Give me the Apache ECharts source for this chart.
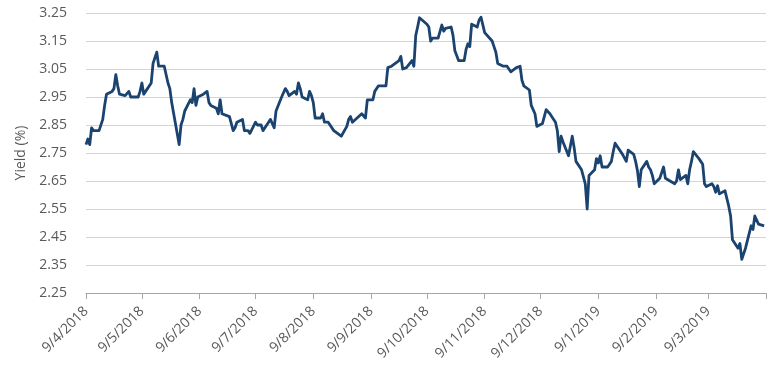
<!DOCTYPE html>
<html><head><meta charset="utf-8">
<script src="https://cdn.jsdelivr.net/npm/echarts@6/dist/echarts.min.js"></script>
<style>html,body{margin:0;padding:0;background:#fff}#c{width:780px;height:374px}</style>
</head><body><div id="c"></div>
<script>
// Trading days: weekdays from firstDay to lastDay, minus bond-market holidays
const firstDay = '2018-04-09';
const lastDay = '2019-04-08';
const holidays = ['2018-05-28','2018-07-04','2018-09-03','2018-10-08','2018-11-12','2018-11-22',
                  '2018-12-05','2018-12-25','2019-01-01','2019-01-21','2019-02-18'];

// Yield (%) per trading day
const yields = [
  // Apr 2018
  2.78,2.80,2.78,2.84,2.83,2.83,2.83,2.87,2.92,2.96,2.97,2.98,3.03,2.99,2.96,2.955,
  // May
  2.96,2.97,2.95,2.95,2.95,2.97,3.00,2.96,2.97,3.00,3.07,3.09,3.11,3.06,3.06,3.06,3.00,2.98,2.93,2.78,2.85,2.87,
  // Jun
  2.90,2.94,2.93,2.98,2.92,2.95,2.96,2.96,2.97,2.93,2.92,2.91,2.89,2.94,2.89,2.89,2.88,2.88,2.83,2.84,2.86,
  // Jul
  2.87,2.83,2.83,2.82,2.86,2.85,2.85,2.85,2.83,2.86,2.87,2.87,2.84,2.90,2.95,2.95,2.98,2.97,2.955,2.97,2.96,
  // Aug
  3.00,2.98,2.95,2.94,2.97,2.955,2.93,2.875,2.875,2.89,2.86,2.86,2.86,2.83,2.83,2.82,2.82,2.81,2.845,2.87,2.88,2.86,2.86,
  // Sep
  2.89,2.89,2.875,2.94,2.94,2.97,2.965,2.99,2.995,2.99,3.055,3.06,3.06,3.065,3.08,3.095,3.05,3.055,3.055,
  // Oct
  3.08,3.06,3.17,3.20,3.233,3.21,3.20,3.15,3.16,3.16,3.16,3.207,3.185,3.195,3.20,3.17,3.115,3.12,3.08,3.08,3.12,3.14,
  // Nov
  3.13,3.21,3.20,3.225,3.235,3.235,3.18,3.15,3.13,3.11,3.07,3.06,3.06,3.06,3.04,3.055,3.06,3.06,3.01,2.99,
  // Dec
  2.975,2.92,2.89,2.845,2.855,2.88,2.905,2.91,2.89,2.86,2.83,2.755,2.81,2.79,2.74,2.81,2.77,2.72,2.69,
  // Jan 2019
  2.64,2.55,2.67,2.69,2.73,2.714,2.74,2.70,2.70,2.71,2.72,2.755,2.785,2.745,2.74,2.72,2.76,2.745,2.72,2.687,2.63,
  // Feb
  2.69,2.72,2.70,2.69,2.67,2.64,2.66,2.68,2.70,2.66,2.665,2.64,2.65,2.69,2.655,2.67,2.64,2.69,2.72,
  // Mar
  2.755,2.73,2.72,2.71,2.64,2.63,2.64,2.63,2.61,2.633,2.604,2.615,2.61,2.56,2.525,2.44,2.41,2.427,2.37,2.39,2.41,
  // Apr
  2.49,2.477,2.525,2.51,2.496,2.49
];

// x-axis tick labels (d/m/yyyy); the axis ends one month after the last label
const tickLabels = ['9/4/2018','9/5/2018','9/6/2018','9/7/2018','9/8/2018','9/9/2018',
                    '9/10/2018','9/11/2018','9/12/2018','9/1/2019','9/2/2019','9/3/2019'];
const axisEnd = '9/4/2019';

// y-axis range
const yMin = 2.25, yMax = 3.25, yStep = 0.1;

const DAY = 86400000;
function isoToDay(s){ const p = s.split('-').map(Number); return Date.UTC(p[0], p[1]-1, p[2]) / DAY; }
function dmyToDay(s){ const p = s.split('/').map(Number); return Date.UTC(p[2], p[1]-1, p[0]) / DAY; }

const d0 = isoToDay(firstDay), d1 = isoToDay(lastDay);
const hol = new Set(holidays.map(isoToDay));
const tradingDays = [];
for (let d = d0; d <= d1; d++) {
  const wd = new Date(d * DAY).getUTCDay();
  if (wd !== 0 && wd !== 6 && !hol.has(d)) tradingDays.push(d - d0);
}
const seriesData = yields.map((v, i) => [tradingDays[i], v]);

const tickPos = tickLabels.map(s => dmyToDay(s) - d0);
const endPos = dmyToDay(axisEnd) - d0;
const labelAt = {};
tickPos.forEach((p, i) => { labelAt[p] = tickLabels[i]; });

const FONT = 'Open Sans';
const chart = echarts.init(document.getElementById('c'), null, {renderer: 'canvas'});
chart.setOption({
  animation: false,
  backgroundColor: '#ffffff',
  grid: {left: 86, right: 14, top: 13, bottom: 81},
  xAxis: {
    type: 'value', min: 0, max: endPos,
    axisLine: {show: true, lineStyle: {color: '#a6a6a6', width: 1}},
    axisTick: {show: true, length: 6, lineStyle: {color: '#a6a6a6'}, customValues: tickPos.concat([endPos])},
    axisLabel: {
      customValues: tickPos, rotate: 45, margin: 16,
      color: '#595959', fontFamily: FONT, fontSize: 14,
      formatter: v => labelAt[v] || ''
    },
    splitLine: {show: false}
  },
  yAxis: {
    type: 'value', min: yMin, max: yMax, interval: yStep,
    name: 'Yield (%)', nameLocation: 'middle', nameGap: 58, nameRotate: 90,
    nameTextStyle: {color: '#595959', fontFamily: FONT, fontSize: 14},
    axisLine: {show: false}, axisTick: {show: false},
    axisLabel: {color: '#595959', fontFamily: FONT, fontSize: 14, margin: 19,
                formatter: v => v.toFixed(2)},
    splitLine: {show: true, lineStyle: {color: '#d4d4d4', width: 1}}
  },
  series: [{
    type: 'line', data: seriesData, showSymbol: false, symbol: 'none',
    lineStyle: {color: '#1a4370', width: 2.8, join: 'round'},
    itemStyle: {color: '#1a4370'}
  }]
});
</script>
</body></html>
